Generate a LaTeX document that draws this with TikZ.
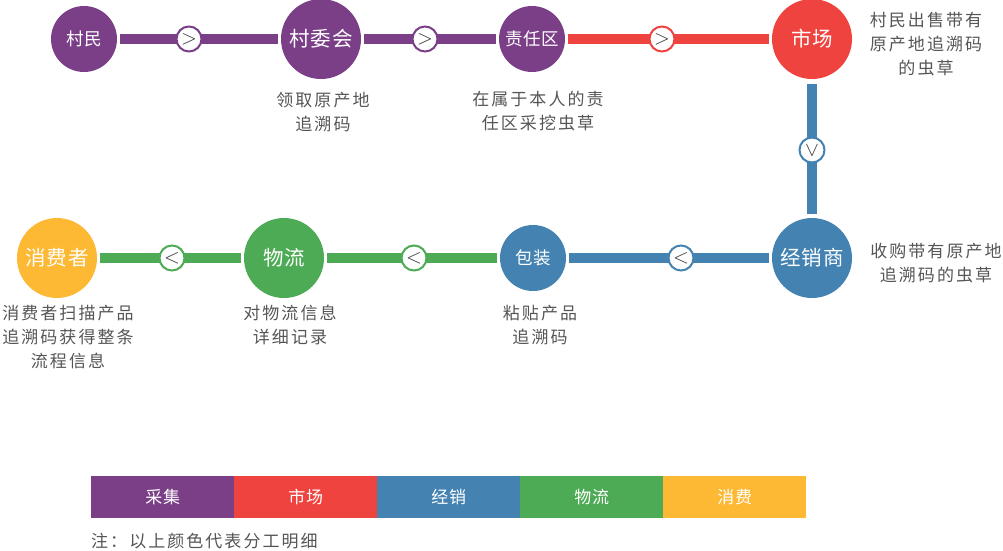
\documentclass[tikz,border=0pt]{standalone}
\usepackage{fontspec}
\setmainfont{Noto Sans CJK SC}
\newfontfamily\descfont[LetterSpace=12]{Noto Sans CJK SC}
\newfontfamily\labfont[LetterSpace=4]{Noto Sans CJK SC}
\definecolor{cpurple}{HTML}{7B3F88}
\definecolor{cred}{HTML}{EF4340}
\definecolor{cblue}{HTML}{4382B1}
\definecolor{cgreen}{HTML}{4DAA55}
\definecolor{cyellow}{HTML}{FDB933}
\definecolor{cgray}{HTML}{555555}
\tikzset{
  big/.style={circle, inner sep=0pt, minimum size=80pt, text=white, font=\labfont\fontsize{20.5}{20}\selectfont},
  small/.style={circle, inner sep=0pt, minimum size=66pt, text=white, font=\labfont\fontsize{17.5}{17}\selectfont},
  conn/.style={line width=10pt, shorten <=3pt, shorten >=3pt},
  arr/.style={circle, inner sep=0pt, minimum size=25pt, fill=white, line width=2pt, text=black!80, font=\fontsize{20}{20}\selectfont},
  desc/.style={align=center, text=cgray, font=\descfont\fontsize{17}{24}\selectfont, inner sep=0pt},
  leg/.style={minimum width=143pt, minimum height=42pt, inner sep=0pt, text=white, font=\labfont\fontsize{17}{17}\selectfont, anchor=north west},
}
\begin{document}
\begin{tikzpicture}[x=1pt,y=-1pt]
\useasboundingbox (0,0) rectangle (1003,550);
% nodes
\node[small, fill=cpurple] (cm) at (84,39) {村民};
\node[big, fill=cpurple] (cwh) at (321,39) {村委会};
\node[small, fill=cpurple] (zrq) at (532,39) {责任区};
\node[big, fill=cred] (sc) at (812,39) {市场};
\node[big, fill=cblue] (jxs) at (812,258) {经销商};
\node[small, fill=cblue] (bz) at (533,258) {包装};
\node[big, fill=cgreen] (wl) at (284,258) {物流};
\node[big, fill=cyellow] (xfz) at (57,258) {消费者};
% connectors
\draw[conn, cpurple] (cm) -- (cwh);
\draw[conn, cpurple] (cwh) -- (zrq);
\draw[conn, cred] (zrq) -- (sc);
\draw[conn, cblue, shorten <=5pt, shorten >=4pt] (sc) -- (jxs);
\draw[conn, cblue] (jxs) -- (bz);
\draw[conn, cgreen] (bz) -- (wl);
\draw[conn, cgreen] (wl) -- (xfz);
% arrow markers
\node[arr, draw=cpurple] (a1) at (189,39) {$>$};
\node[arr, draw=cpurple] (a2) at (425,39) {$>$};
\node[arr, draw=cred] (a3) at (662,39) {$>$};
\node[arr, draw=cblue] (a4) at (812,150) {\rotatebox{-90}{$>$}};
\node[arr, draw=cblue] (a5) at (681,258) {$<$};
\node[arr, draw=cgreen] (a6) at (414,258) {$<$};
\node[arr, draw=cgreen] (a7) at (172,258) {$<$};
% descriptions
\node[desc] (d1) at (323,112) {领取原产地\\追溯码};
\node[desc] (d2) at (538,111) {在属于本人的责\\任区采挖虫草};
\node[desc] (d3) at (926,44) {村民出售带有\\原产地追溯码\\的虫草};
\node[desc] (d4) at (936,263) {收购带有原产地\\追溯码的虫草};
\node[desc] (d5) at (540,325) {粘贴产品\\追溯码};
\node[desc] (d6) at (290,325) {对物流信息\\详细记录};
\node[desc] (d7) at (68,337) {消费者扫描产品\\追溯码获得整条\\流程信息};
% legend
\node[leg, fill=cpurple] (l1) at (91,476) {采集};
\node[leg, fill=cred] (l2) at (234,476) {市场};
\node[leg, fill=cblue] (l3) at (377,476) {经销};
\node[leg, fill=cgreen] (l4) at (520,476) {物流};
\node[leg, fill=cyellow] (l5) at (663,476) {消费};
\node[desc, anchor=west] (note) at (91,541) {注：以上颜色代表分工明细};
\end{tikzpicture}
\end{document}
